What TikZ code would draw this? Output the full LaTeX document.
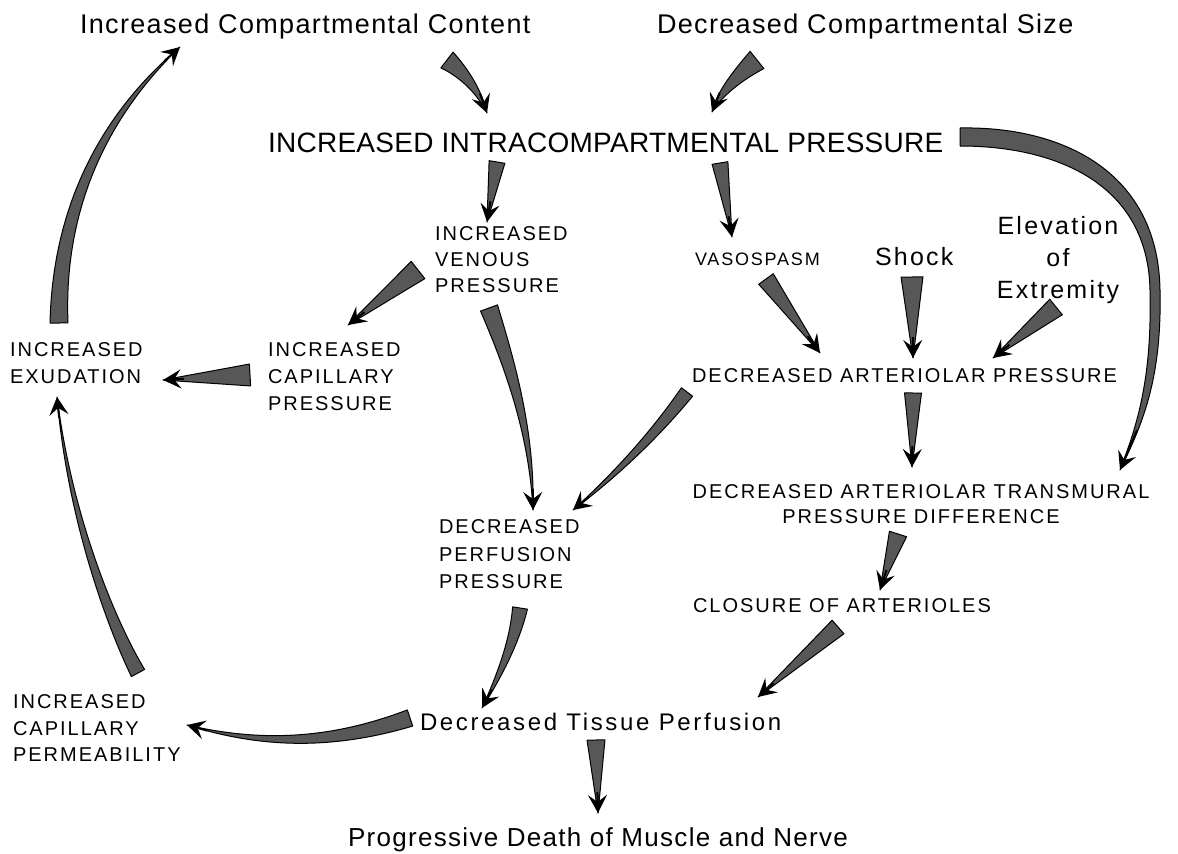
\documentclass[tikz,border=0pt]{standalone}
\usepackage{fontspec}
\setmainfont{Liberation Sans}
\newfontfamily\ttlfont[LetterSpace=5]{Liberation Sans}
\newfontfamily\bigcapsfont[LetterSpace=1]{Liberation Sans}
\newfontfamily\capfont[LetterSpace=10]{Liberation Sans}
\newfontfamily\mixfont[LetterSpace=9]{Liberation Sans}
\newfontfamily\tissuefont[LetterSpace=11]{Liberation Sans}
\newfontfamily\deathfont[LetterSpace=5]{Liberation Sans}
\usetikzlibrary{calc,arrows.meta}

\tikzset{
  lbl/.style={inner sep=0pt, outer sep=0pt},
  ttl/.style={lbl, font=\ttlfont\fontsize{27}{32}\selectfont},
  bigcaps/.style={lbl, font=\bigcapsfont\fontsize{28}{32}\selectfont},
  caps/.style={lbl, align=left, font=\capfont\fontsize{20}{27}\selectfont},
  mixed/.style={lbl, align=center, font=\mixfont\fontsize{25}{32}\selectfont},
  tfill/.style={fill=black!66, draw=black, line width=1pt, line join=round},
  thead/.style={draw=black, line width=2pt, -{Stealth[length=18pt,width=19pt,inset=7pt]}},
}

% tapered arrow: start, control 1, control 2, end, width at start
\newcommand\tarrow[5]{%
  \path[tfill] ($(#1)!#5*0.5!90:(#2)$)
    .. controls ($(#2)!#5*0.33!90:(#3)$) and ($(#3)!#5*0.17!90:(#4)$) .. (#4)
    .. controls ($(#3)!#5*0.17!-90:(#4)$) and ($(#2)!#5*0.33!-90:(#3)$) .. ($(#1)!#5*0.5!-90:(#2)$) -- cycle;
  \draw[thead] ($(#4)!21pt!(#3)$) -- (#4);
}
\newcommand\sarrow[3]{%
  \coordinate (saA) at ($(#1)!0.33!(#2)$);
  \coordinate (saB) at ($(#1)!0.67!(#2)$);
  \tarrow{#1}{saA}{saB}{#2}{#3}%
}

\begin{document}
\begin{tikzpicture}[x=1pt,y=-1pt]
\useasboundingbox (0,0) rectangle (1178,854);
\fill[white] (0,0) rectangle (1178,854);

% ---------- labels ----------
\node[ttl, anchor=base west] (icc) at (80,33) {Increased Compartmental Content};
\node[ttl, anchor=base west] (dcs) at (657,33) {Decreased Compartmental Size};
\node[bigcaps, anchor=base west] (iip) at (268,152) {INCREASED INTRACOMPARTMENTAL PRESSURE};
\node[caps, anchor=north west, font=\capfont\fontsize{20}{26}\selectfont] (ivp) at (435,227) {INCREASED\\VENOUS\\PRESSURE};
\node[lbl, anchor=base west, font=\capfont\fontsize{18}{22}\selectfont] (vaso) at (695,265) {VASOSPASM};
\node[mixed, anchor=base west, font=\mixfont\fontsize{25}{30}\selectfont] (shock) at (875,265) {Shock};
\node[mixed, anchor=north] (elev) at (1058,216) {Elevation\\of\\Extremity};
\node[caps, anchor=north west] (iex) at (10,343) {INCREASED\\EXUDATION};
\node[caps, anchor=north west] (icap) at (268,343) {INCREASED\\CAPILLARY\\PRESSURE};
\node[lbl, anchor=base west, font=\capfont\fontsize{20}{27}\selectfont] (dap) at (692,382) {DECREASED ARTERIOLAR PRESSURE};
\node[caps, align=center, anchor=north, font=\capfont\fontsize{20}{25}\selectfont] (datpd) at (921,485) {DECREASED ARTERIOLAR TRANSMURAL\\PRESSURE DIFFERENCE};
\node[lbl, anchor=base west, font=\capfont\fontsize{20}{27}\selectfont] (clos) at (693,612) {CLOSURE OF ARTERIOLES};
\node[caps, anchor=north west, font=\capfont\fontsize{20}{27.5}\selectfont] (dpp) at (439,520) {DECREASED\\PERFUSION\\PRESSURE};
\node[caps, anchor=north west, font=\capfont\fontsize{20}{26.5}\selectfont] (icperm) at (13,695) {INCREASED\\CAPILLARY\\PERMEABILITY};
\node[lbl, anchor=base west, font=\tissuefont\fontsize{24}{28}\selectfont] (dtp) at (420,730) {Decreased Tissue Perfusion};
\node[lbl, anchor=base, font=\deathfont\fontsize{26}{30}\selectfont] (pd) at (598,846) {Progressive Death of Muscle and Nerve};

% ---------- connector end points ----------
\coordinate (a1s) at (447,60);   \coordinate (a1e) at (487,113);
\coordinate (a2s) at (757,60);   \coordinate (a2e) at (712,112);
\coordinate (a3s) at (497,162);  \coordinate (a3e) at (487,222);
\coordinate (a4s) at (720,163);  \coordinate (a4e) at (732,237);
\coordinate (a6s) at (418,270);  \coordinate (a6e) at (348,325);
\coordinate (a7s) at (489,308);  \coordinate (a7e) at (533,510);
\coordinate (a8s) at (250,375);  \coordinate (a8e) at (163,380);
\coordinate (a9s) at (766,279);  \coordinate (a9e) at (820,353);
\coordinate (a10s) at (912,277); \coordinate (a10e) at (913,358);
\coordinate (a11s) at (1056,307);\coordinate (a11e) at (993,358);
\coordinate (a12s) at (913,393); \coordinate (a12e) at (912,467);
\coordinate (a13s) at (687,392); \coordinate (a13e) at (573,510);
\coordinate (a14s) at (898,534); \coordinate (a14e) at (880,590);
\coordinate (a15s) at (838,627); \coordinate (a15e) at (758,697);
\coordinate (a16s) at (520,608); \coordinate (a16e) at (482,708);
\coordinate (a17s) at (410,718); \coordinate (a17e) at (187,725);
\coordinate (a18s) at (596,740); \coordinate (a18e) at (598,813);
\coordinate (a19s) at (138,673); \coordinate (a19e) at (57,397);
\coordinate (a20s) at (59,323);  \coordinate (a20e) at (180,47);
\coordinate (a5e) at (1120,470);

% ---------- tapered arrows ----------
\tarrow{a1s}{460,70}{478,88}{a1e}{20pt}
\tarrow{a2s}{742,72}{720,92}{a2e}{22pt}
\sarrow{a3s}{a3e}{16pt}
\sarrow{a4s}{a4e}{16pt}
\sarrow{a6s}{a6e}{22pt}
\tarrow{a7s}{508,360}{532,430}{a7e}{18pt}
\sarrow{a8s}{a8e}{22pt}
\sarrow{a9s}{a9e}{18pt}
\sarrow{a10s}{a10e}{22pt}
\sarrow{a11s}{a11e}{20pt}
\sarrow{a12s}{a12e}{17pt}
\tarrow{a13s}{653,437}{613,477}{a13e}{14pt}
\sarrow{a14s}{a14e}{18pt}
\sarrow{a15s}{a15e}{18pt}
\tarrow{a16s}{515,640}{500,675}{a16e}{15pt}
\tarrow{a17s}{330,745}{260,745}{a17e}{17pt}
\sarrow{a18s}{a18e}{18pt}
\tarrow{a19s}{112,625}{70,520}{a19e}{15pt}
\tarrow{a20s}{58,200}{110,110}{a20e}{18pt}

% big curved arrow from intracompartmental pressure to transmural difference
\path[tfill] (960,128) .. controls (1060,126) and (1158,170) .. (1160,290)
  .. controls (1162,380) and (1142,425) .. (a5e)
  .. controls (1138,423) and (1152,378) .. (1150,290)
  .. controls (1148,185) and (1058,146) .. (960,146) -- cycle;
\draw[thead] (1137,430) -- (a5e);
\end{tikzpicture}
\end{document}
